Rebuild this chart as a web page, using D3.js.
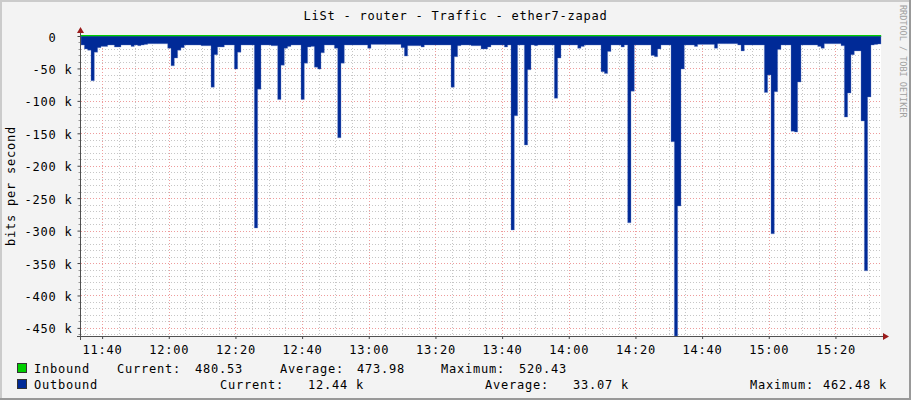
<!DOCTYPE html>
<html><head><meta charset="utf-8">
<script src="https://cdn.jsdelivr.net/npm/d3@7/dist/d3.min.js"></script>
<style>
html,body{margin:0;padding:0;background:#f3f3f3;}
svg{display:block;}
text{font-family:"DejaVu Sans Mono",monospace;}
</style></head><body>
<svg id="chart" width="911" height="400"></svg>
<script>
// ---------------- data ----------------
const title = "LiSt - router - Traffic - ether7-zapad";
const yAxisLabel = "bits per second";
const watermark = "RRDTOOL / TOBI OETIKER";
const startTime = new Date(2024, 0, 1, 11, 33, 40);
const endTime = new Date(2024, 0, 1, 15, 33, 40);
const outboundStepMinutes = 1;
// outbound traffic, k bits per second, one value per minute (plotted negative)
const outboundK = [
  14,20,22,69,25,18,16,16,14,14, 17,17,14,14,14,16,14,15,14,13,
  12,12,12,12,12,12,19,46,34,22, 18,14,14,14,14,14,15,15,15,79,
  29,17,17,14,14,14,51,25,14,14, 14,14,296,82,14,14,14,15,15,98,
  45,19,16,14,14,14,98,42,17,16, 48,51,26,14,14,14,19,157,42,14,
  14,14,14,14,14,14,19,13,13,13, 13,13,13,13,13,13,18,31,15,15,
  15,15,17,14,14,14,14,14,14,14, 14,79,32,15,14,14,14,15,15,15,
  20,20,17,14,14,14,14,17,14,299, 123,14,14,168,52,14,15,14,14,14,
  14,14,96,34,14,14,14,14,14,19, 16,14,14,14,14,14,55,58,24,14,
  14,14,17,14,288,85,14,14,14,14, 14,30,32,20,14,14,14,163,462.48,262,
  51,14,14,14,16,13,13,13,13,13, 19,12,12,12,12,12,12,14,23,14,
  14,14,14,14,14,87,60,305,86,21, 14,14,14,147,148,71,14,14,14,14,
  14,16,19,12,12,12,12,12,15,125, 88,29,23,23,131,362,94,14,13,12.44
];
const inboundStepMinutes = 10;
// inbound traffic, bits per second, one value per 10 minutes
const inbound = [470,475,468,480,472,476,520,471,469,474,478,473,470,477,472,469,475,471,474,476,470,473,472,478,480.53];
const yTicksK = [0,-50,-100,-150,-200,-250,-300,-350,-400,-450];
const yMinK = -462.48;
const legendRows = [
  {name:"Inbound",  color:"#00CF00", items:[["Current:",117],["480.53",195],["Average:",280],["473.98",357],["Maximum:",441],["520.43",519]]},
  {name:"Outbound", color:"#002A97", items:[["Current:",220],["12.44 k",308],["Average:",485],["33.07 k",573],["Maximum:",750],["462.48 k",823]]}
];

// ---------------- layout ----------------
const W = 911, H = 400;
const L = 81, R = 881, T = 36, B = 336;
const svg = d3.select("#chart");
const FS = "12px", LS = "0.78px";

// background + frame
svg.append("rect").attr("width", W).attr("height", H).attr("fill", "#f3f3f3");
svg.append("rect").attr("x",0).attr("y",0).attr("width",W).attr("height",2).attr("fill","#cbcbcb");
svg.append("rect").attr("x",0).attr("y",0).attr("width",2).attr("height",H).attr("fill","#cbcbcb");
svg.append("rect").attr("x",0).attr("y",H-2).attr("width",W).attr("height",2).attr("fill","#999999");
svg.append("rect").attr("x",W-2).attr("y",0).attr("width",2).attr("height",H).attr("fill","#999999");

// canvas
svg.append("rect").attr("x", L).attr("y", T).attr("width", R - L).attr("height", B - T).attr("fill", "#ffffff");

const x = d3.scaleTime().domain([startTime, endTime]).range([L, R]);
const y = d3.scaleLinear().domain([yMinK * 1000, 0]).range([B, T]);

// grid
const grid = svg.append("g");
const minorTimes = d3.timeMinute.every(5).range(startTime, endTime).filter(d => d.getMinutes() % 20 !== 0);
const majorTimes = d3.timeMinute.every(20).range(startTime, endTime);
const minorCol = "#c6c6c6", majorCol = "#ee9c9c", dash = "1,2";
grid.selectAll(".vminor").data(minorTimes).join("line")
  .attr("x1", d => Math.round(x(d)) + 0.5).attr("x2", d => Math.round(x(d)) + 0.5)
  .attr("y1", T).attr("y2", B).attr("stroke", minorCol).attr("stroke-dasharray", dash);
const minorVals = d3.range(-10000, yMinK * 1000, -10000).filter(v => v % 50000 !== 0);
grid.selectAll(".hminor").data(minorVals).join("line")
  .attr("x1", L).attr("x2", R)
  .attr("y1", d => Math.round(y(d)) + 0.5).attr("y2", d => Math.round(y(d)) + 0.5)
  .attr("stroke", minorCol).attr("stroke-dasharray", dash);
grid.selectAll(".vmajor").data(majorTimes).join("line")
  .attr("x1", d => Math.round(x(d)) + 0.5).attr("x2", d => Math.round(x(d)) + 0.5)
  .attr("y1", T).attr("y2", B).attr("stroke", majorCol).attr("stroke-dasharray", dash);
grid.selectAll(".hmajor").data(yTicksK.filter(v => v !== 0)).join("line")
  .attr("x1", L).attr("x2", R)
  .attr("y1", d => Math.round(y(d * 1000)) + 0.5).attr("y2", d => Math.round(y(d * 1000)) + 0.5)
  .attr("stroke", majorCol).attr("stroke-dasharray", dash);

// outbound area (negative)
const outPts = outboundK.map((v, i) => ({t: d3.timeMinute.offset(startTime, i * outboundStepMinutes), v: -v * 1000}));
outPts.push({t: endTime, v: outPts[outPts.length - 1].v});
const area = d3.area().curve(d3.curveStepAfter)
  .x(d => x(d.t)).y0(y(0)).y1(d => y(d.v));
svg.append("path").datum(outPts).attr("d", area).attr("fill", "#002A97")
  .attr("stroke", "#6f86c6").attr("stroke-width", 0.6).attr("stroke-opacity", 0.6);

// inbound line
const inPts = inbound.map((v, i) => ({t: d3.timeMinute.offset(startTime, i * inboundStepMinutes), v}));
const line = d3.line().curve(d3.curveStepAfter).x(d => Math.min(x(d.t), R)).y(d => y(d.v));
svg.append("path").datum(inPts).attr("d", line).attr("fill", "none")
  .attr("stroke", "#00CF00").attr("stroke-width", 1.3);

// axes
const xAxis = d3.axisBottom(x).tickValues(majorTimes).tickFormat(d3.timeFormat("%H:%M"))
  .tickSize(3).tickPadding(6);
const gx = svg.append("g").attr("transform", `translate(0,${B})`).call(xAxis);
gx.select(".domain").remove();
gx.selectAll(".tick line").attr("stroke", "#444");
gx.selectAll(".tick text").attr("font-size", FS).attr("font-family", "DejaVu Sans Mono")
  .style("letter-spacing", LS).attr("fill", "#000");

const yAxis = d3.axisLeft(y).tickValues(yTicksK.map(v => v * 1000))
  .tickFormat(v => v === 0 ? "0  " : `${v / 1000} k`).tickSize(3).tickPadding(5);
const gy = svg.append("g").attr("transform", `translate(${L - 0.5},0)`).call(yAxis);
gy.select(".domain").remove();
gy.selectAll(".tick line").attr("stroke", "#444");
gy.selectAll(".tick text").attr("font-size", FS).attr("font-family", "DejaVu Sans Mono")
  .style("letter-spacing", LS).style("white-space", "pre").attr("dy", "0.42em").attr("fill", "#000");
// minor y ticks
svg.append("g").selectAll("line").data(minorVals).join("line")
  .attr("x1", L - 2.5).attr("x2", L - 0.5)
  .attr("y1", d => Math.round(y(d)) + 0.5).attr("y2", d => Math.round(y(d)) + 0.5)
  .attr("stroke", "#999");

// axis lines + arrows
svg.append("line").attr("x1", L - 4).attr("x2", R + 3).attr("y1", B + 0.5).attr("y2", B + 0.5).attr("stroke", "#505050");
svg.append("line").attr("x1", L - 0.5).attr("x2", L - 0.5).attr("y1", T - 5).attr("y2", B + 4).attr("stroke", "#505050");
svg.append("path").attr("d", `M${R + 2},${B - 3} L${R + 8},${B + 0.5} L${R + 2},${B + 4} Z`).attr("fill", "#9b1c1c");
svg.append("path").attr("d", `M${L - 4},${T - 3} L${L - 0.5},${T - 9} L${L + 3},${T - 3} Z`).attr("fill", "#9b1c1c");

// title
svg.append("text").attr("x", W / 2).attr("y", 20).attr("text-anchor", "middle")
  .attr("font-size", FS).style("letter-spacing", LS).text(title);
// y label
svg.append("text").attr("transform", `translate(15,186) rotate(-90)`).attr("text-anchor", "middle")
  .attr("font-size", FS).style("letter-spacing", LS).text(yAxisLabel);
// watermark
svg.append("text").attr("transform", `translate(900,5) rotate(90)`)
  .attr("font-size", "8.5px").attr("fill", "#a0a0a0").text(watermark);

// legend
const rowBase = [373, 389];
legendRows.forEach((row, r) => {
  const yb = rowBase[r];
  svg.append("rect").attr("x", 17.5).attr("y", yb - 9.5).attr("width", 9).attr("height", 9)
    .attr("fill", row.color).attr("stroke", "#333").attr("stroke-width", 1);
  svg.append("text").attr("x", 34).attr("y", yb).attr("font-size", FS).style("letter-spacing", LS).text(row.name);
  row.items.forEach(([txt, xx]) => {
    svg.append("text").attr("x", xx).attr("y", yb).attr("font-size", FS)
      .style("letter-spacing", LS).style("white-space", "pre").text(txt);
  });
});
</script>
</body></html>
